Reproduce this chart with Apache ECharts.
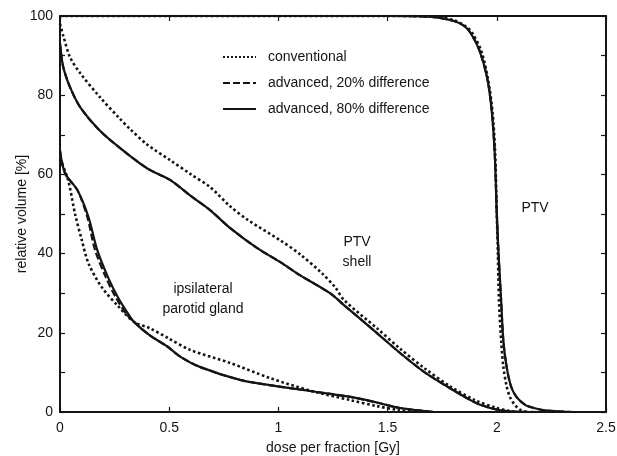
<!DOCTYPE html>
<html><head><meta charset="utf-8">
<script src="https://cdn.jsdelivr.net/npm/echarts@6/dist/echarts.min.js"></script>
<style>html,body{margin:0;padding:0;background:#fff}#c{width:617px;height:456px}</style>
</head><body><div id="c"></div>
<script>
// Tick labels
const xTicks = ['0','0.5','1','1.5','2','2.5'];
const yTicks = ['0','20','40','60','80','100'];
const legendNames = ['conventional','advanced, 20% difference','advanced, 80% difference'];

// PTV curves [dose Gy, relative volume %]
const ptvConv = [[0,100],[1.5,100],[1.72,99.8],[1.81,98.8],[1.86,97.3],[1.89,95.5],[1.93,91],[1.96,84],[1.98,76],[1.992,66],[2.0,50],[2.005,40],[2.01,28],[2.02,18],[2.03,11.4],[2.045,6.5],[2.06,3.8],[2.08,2],[2.105,0.6],[2.13,0.1],[2.15,0]];
const ptvAdv20 = [[0,100],[1.5,100],[1.7,99.8],[1.8,98.8],[1.85,97.5],[1.88,95.7],[1.92,91.4],[1.955,84.6],[1.975,77],[1.99,66],[2.0,50],[2.008,40],[2.02,28],[2.03,18],[2.045,11.4],[2.065,6.5],[2.09,3.8],[2.13,1.8],[2.17,1.0],[2.22,0.4],[2.3,0.1],[2.35,0]];
const ptvAdv80 = [[0,100],[1.5,100],[1.7,99.8],[1.8,98.8],[1.85,97.5],[1.88,95.7],[1.92,91.4],[1.955,84.6],[1.975,77],[1.99,66],[2.0,50],[2.008,40],[2.02,28],[2.03,18],[2.045,11.4],[2.065,6.5],[2.09,3.8],[2.13,1.8],[2.17,1.0],[2.22,0.4],[2.3,0.1],[2.35,0]];

// PTV shell curves
const shellConv = [[0,98],[0.015,95],[0.046,89.6],[0.092,85.6],[0.183,79.5],[0.275,74],[0.32,71.5],[0.4,67.5],[0.504,63.6],[0.6,60],[0.687,56.8],[0.778,52],[0.86,48.5],[1.007,43.4],[1.1,39.8],[1.2,35],[1.26,31.5],[1.3,28.3],[1.45,21.2],[1.557,16],[1.67,11],[1.786,6.5],[1.9,3],[2.0,1],[2.08,0]];
const shellAdv20 = [[0,93],[0.01,88.5],[0.02,86],[0.046,82],[0.092,77],[0.183,71],[0.29,66],[0.4,61.5],[0.504,58.6],[0.6,54.5],[0.687,51],[0.778,46.5],[0.9,41.5],[1.007,37.9],[1.1,34.5],[1.236,30],[1.3,27],[1.45,20],[1.557,14.9],[1.67,10],[1.786,6],[1.86,3.6],[1.92,1.9],[2.01,0.5],[2.1,0.05],[2.2,0]];
const shellAdv80 = [[0,93],[0.01,88.5],[0.02,86],[0.046,82],[0.092,77],[0.183,71],[0.29,66],[0.4,61.5],[0.504,58.6],[0.6,54.5],[0.687,51],[0.778,46.5],[0.9,41.5],[1.007,37.9],[1.1,34.5],[1.236,30],[1.3,27],[1.45,20],[1.557,14.9],[1.67,10],[1.786,6],[1.86,3.6],[1.92,1.9],[2.01,0.5],[2.1,0.05],[2.2,0]];

// Ipsilateral parotid gland curves
const parConv = [[0,64],[0.037,58.6],[0.069,50],[0.1,43.4],[0.13,37.6],[0.19,31.6],[0.27,26.5],[0.34,22.7],[0.41,21.2],[0.5,18.5],[0.595,15.7],[0.778,12.4],[0.96,8.6],[1.145,5.4],[1.33,3],[1.45,1.5],[1.55,0.5],[1.65,0]];
const parAdv20 = [[0,66],[0.023,60.3],[0.08,56],[0.125,49.3],[0.16,41],[0.21,34],[0.255,29],[0.3,25],[0.34,22.7],[0.41,19.4],[0.49,16.6],[0.55,14],[0.64,11.4],[0.824,8.1],[0.96,6.8],[1.145,5.3],[1.33,3.8],[1.45,2.4],[1.557,1],[1.71,0]];
const parAdv80 = [[0,66],[0.023,60.3],[0.08,56],[0.13,49.3],[0.17,41],[0.22,34],[0.265,29],[0.31,25],[0.34,22.7],[0.41,19.4],[0.49,16.6],[0.55,14],[0.64,11.4],[0.824,8.1],[0.96,6.8],[1.145,5.3],[1.33,3.8],[1.45,2.4],[1.557,1],[1.71,0]];

const FONT = 'Liberation Sans, Arial, Helvetica, sans-serif';
const INK = '#141414';
const styles = {
  'conventional': {type: 'dotted', width: 2.6},
  'advanced, 20% difference': {type: [7, 3], width: 2.2},
  'advanced, 80% difference': {type: 'solid', width: 2.2}
};
const curveSets = [
  ['conventional', [ptvConv, shellConv, parConv]],
  ['advanced, 20% difference', [ptvAdv20, shellAdv20, parAdv20]],
  ['advanced, 80% difference', [ptvAdv80, shellAdv80, parAdv80]]
];
const series = [];
curveSets.forEach(([name, sets]) => {
  sets.forEach(d => {
    series.push({
      name: name, type: 'line', data: d, symbol: 'none', smooth: 0.3,
      lineStyle: {color: INK, width: styles[name].width, type: styles[name].type},
      itemStyle: {color: INK}, animation: false, z: 3
    });
  });
});

const chart = echarts.init(document.getElementById('c'), null, {renderer: 'canvas'});
const axisLine = {show: true, onZero: false, lineStyle: {color: INK, width: 2}};
chart.setOption({
  backgroundColor: '#fff',
  animation: false,
  grid: {left: 60, right: 11, top: 16, bottom: 44, containLabel: false, outerBoundsMode: 'none'},
  legend: {
    data: legendNames, orient: 'vertical', left: 217, top: 45, itemWidth: 33, itemHeight: 14, itemGap: 12,
    itemStyle: {opacity: 0, borderWidth: 0},
    textStyle: {fontFamily: FONT, fontSize: 14, color: INK, padding: [0, 0, 0, 7]},
    selectedMode: false
  },
  xAxis: [
    {type: 'value', min: 0, max: 2.5, interval: 0.5, position: 'bottom',
     axisLine: axisLine, splitLine: {show: false},
     axisTick: {show: true, inside: true, length: 5, lineStyle: {color: INK, width: 1.2}},
     axisLabel: {fontFamily: FONT, fontSize: 14, color: INK, margin: 9,
       formatter: v => xTicks[Math.round(v / 0.5)]},
     name: 'dose per fraction [Gy]', nameLocation: 'middle', nameGap: 29, nameMoveOverlap: false,
     nameTextStyle: {fontFamily: FONT, fontSize: 14, color: INK}},
    {type: 'value', min: 0, max: 2.5, interval: 0.5, position: 'top',
     axisLine: axisLine, splitLine: {show: false},
     axisTick: {show: true, inside: true, length: 5, lineStyle: {color: INK, width: 1.2}},
     axisLabel: {show: false}}
  ],
  yAxis: [
    {type: 'value', min: 0, max: 100, interval: 10, position: 'left',
     axisLine: axisLine, splitLine: {show: false},
     axisTick: {show: true, inside: true, length: 5, lineStyle: {color: INK, width: 1.2}},
     axisLabel: {fontFamily: FONT, fontSize: 14, color: INK, margin: 7,
       formatter: v => (Math.round(v) % 20 === 0 ? yTicks[Math.round(v / 20)] : '')},
     name: 'relative volume [%]', nameLocation: 'middle', nameGap: 31, nameRotate: 90, nameMoveOverlap: false,
     nameTextStyle: {fontFamily: FONT, fontSize: 14, color: INK, verticalAlign: 'bottom'}},
    {type: 'value', min: 0, max: 100, interval: 10, position: 'right',
     axisLine: axisLine, splitLine: {show: false},
     axisTick: {show: true, inside: true, length: 5, lineStyle: {color: INK, width: 1.2}},
     axisLabel: {show: false}}
  ],
  graphic: [
    {type: 'text', x: 535, y: 208, style: {text: 'PTV', font: '14px ' + FONT, fill: INK, align: 'center', verticalAlign: 'middle'}},
    {type: 'text', x: 357, y: 252, style: {text: 'PTV\nshell', font: '14px ' + FONT, fill: INK, align: 'center', verticalAlign: 'middle', lineHeight: 20}},
    {type: 'text', x: 203, y: 299, style: {text: 'ipsilateral\nparotid gland', font: '14px ' + FONT, fill: INK, align: 'center', verticalAlign: 'middle', lineHeight: 20}}
  ],
  series: series
});
</script>
</body></html>
